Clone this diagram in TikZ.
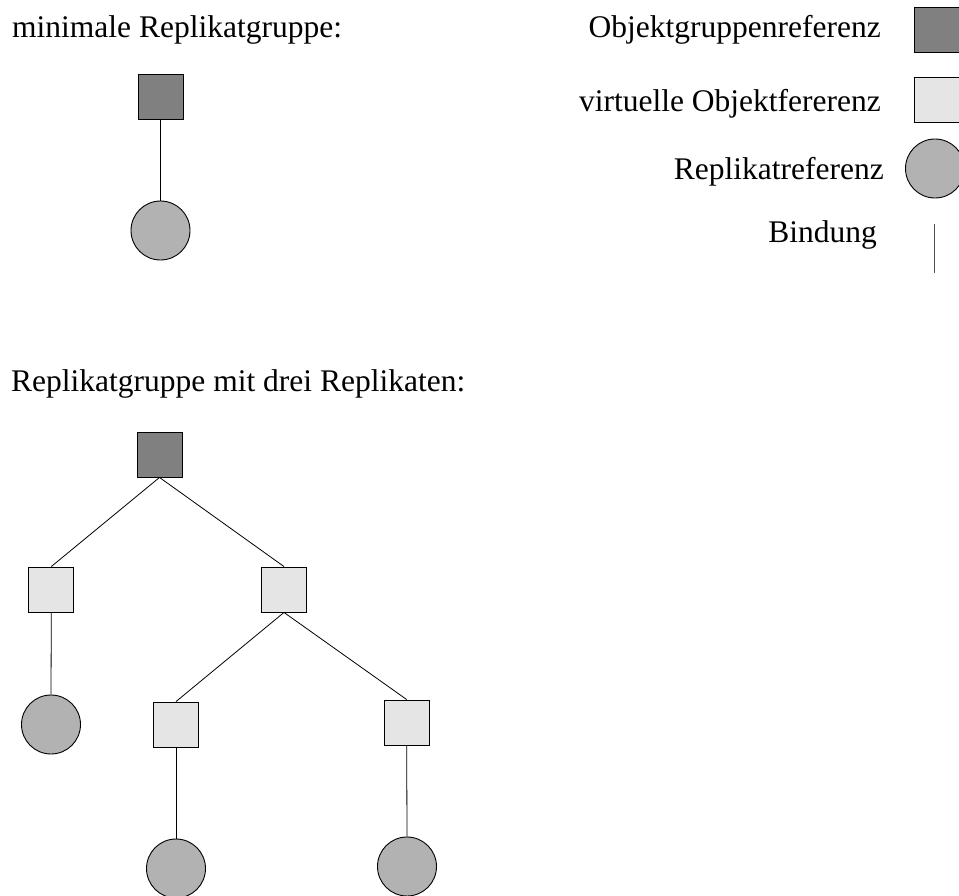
\documentclass[tikz,border=0pt]{standalone}
\usepackage{fontspec}
\setmainfont{Liberation Serif}
\begin{document}
\begin{tikzpicture}[x=1pt,y=-1pt,
  every node/.style={font=\fontsize{31.5}{36}\selectfont},
  objref/.style={draw=black,line width=0.9pt,fill=black!50,minimum size=45pt,inner sep=0pt},
  virtref/.style={draw=black,line width=0.9pt,fill=black!10,minimum size=45pt,inner sep=0pt},
  replref/.style={circle,draw=black,line width=0.9pt,fill=black!30,minimum size=59pt,inner sep=0pt},
  bindline/.style={line width=0.8pt,draw=black},
  label/.style={inner sep=0pt}]
\useasboundingbox (0,0) rectangle (959,895);

% headings
\node[label,anchor=base west] (h1) at (12,37.5) {minimale Replikatgruppe:};
\node[label,anchor=base west] (h2) at (11,391.5) {Replikatgruppe mit drei Replikaten:};

% legend
\node[label,anchor=base east] (l1) at (881,37) {Objektgruppenreferenz};
\node[label,anchor=base east] (l2) at (881,111.5) {virtuelle Objektfererenz};
\node[label,anchor=base east] (l3) at (884,179) {Replikatreferenz};
\node[label,anchor=base east] (l4) at (877,242) {Bindung};
\node[objref] (k1) at (936.5,29.5) {};
\node[virtref] (k2) at (936.5,99.5) {};
\node[replref] (k3) at (935,168.5) {};
\coordinate (k4a) at (934,224);
\coordinate (k4b) at (934,273);
\draw[bindline,draw=black!70] (k4a) -- (k4b);

% minimal replica group
\node[objref] (m0) at (160.5,96.5) {};
\node[replref] (m1) at (160.5,230.5) {};
\draw[bindline] (m0.south) -- (m1.north);

% replica group with three replicas
\node[objref] (t0) at (159.5,454.5) {};
\node[virtref] (tl) at (51.3,589.5) {};
\node[virtref] (tr) at (284,589.5) {};
\node[replref] (tlc) at (51,724.5) {};
\node[virtref] (tm) at (176,724.5) {};
\node[virtref] (trr) at (406.7,722.5) {};
\node[replref] (tmc) at (176,868.5) {};
\node[replref] (trrc) at (407,866.5) {};
\draw[bindline] (t0.south) -- (tl.north);
\draw[bindline] (t0.south) -- (tr.north);
\draw[bindline] (tl.south) -- (tlc.north);
\draw[bindline] (tr.south) -- (tm.north);
\draw[bindline] (tr.south) -- (trr.north);
\draw[bindline] (tm.south) -- (tmc.north);
\draw[bindline] (trr.south) -- (trrc.north);
\end{tikzpicture}
\end{document}
